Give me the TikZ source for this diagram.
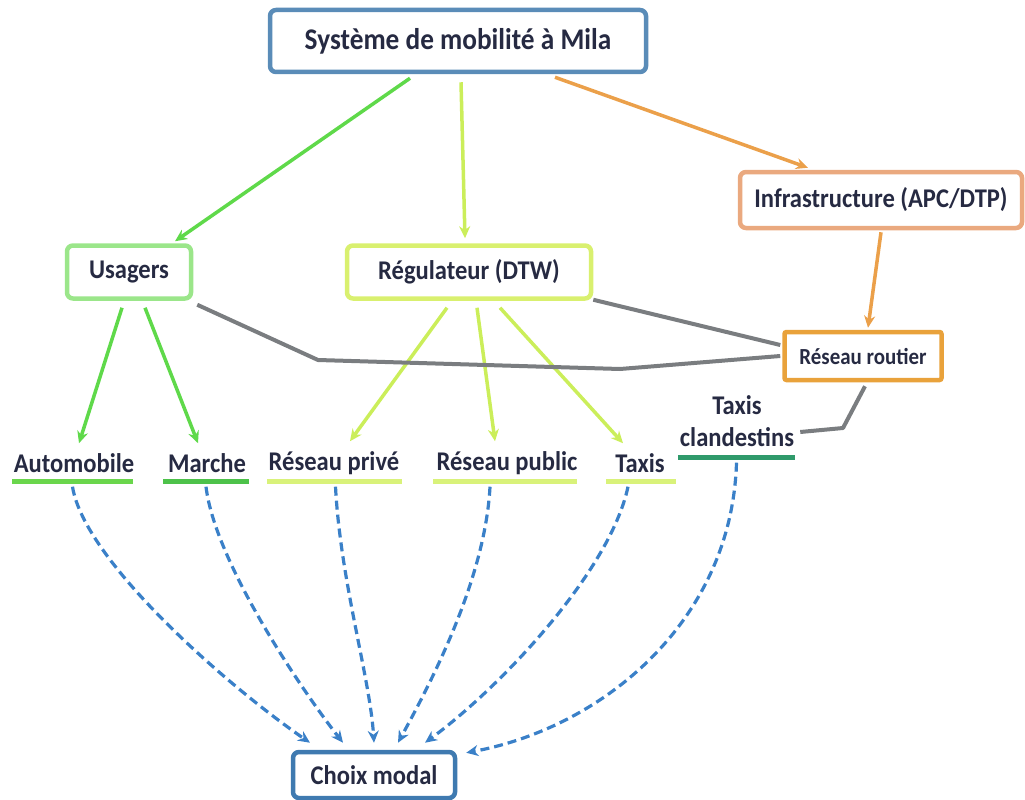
\documentclass[tikz,border=0pt]{standalone}
\usepackage{fontspec}
\setmainfont{Carlito}[FakeStretch=0.91]
\usetikzlibrary{arrows.meta}
\definecolor{txt}{HTML}{262A42}
\definecolor{cSys}{HTML}{5A8CB8}
\definecolor{cInfra}{HTML}{EAA97F}
\definecolor{cUsa}{HTML}{9BE68A}
\definecolor{cReg}{HTML}{D9F06F}
\definecolor{cRout}{HTML}{E9A23B}
\definecolor{cChoix}{HTML}{3F7AB0}
\definecolor{gArr}{HTML}{5FD94A}
\definecolor{yArr}{HTML}{CBEE5A}
\definecolor{oArr}{HTML}{EBA04A}
\definecolor{grey}{HTML}{7A7D80}
\definecolor{uAuto}{HTML}{6AD64C}
\definecolor{uMarche}{HTML}{4DC24A}
\definecolor{uYel}{HTML}{D9F27A}
\definecolor{uTC}{HTML}{2F9A6B}
\definecolor{bDash}{HTML}{3A80C8}
\begin{document}
\begin{tikzpicture}[x=1pt,y=-1pt,
  every node/.style={text=txt,font=\bfseries\fontsize{27}{30}\selectfont},
  box/.style={draw,rounded corners=6pt,line width=4.5pt,fill=white,inner sep=0pt,align=center},
  lbl/.style={inner sep=0pt,align=center},
  uline/.style={inner sep=0pt,minimum height=5pt,fill=#1},
  sarrow/.style={line width=3.5pt,draw=#1,-{Stealth[length=12pt,width=11pt]}},
  greyl/.style={line width=4pt,draw=grey,line join=round},
  dasharrow/.style={line width=3.2pt,draw=bDash,dash pattern=on 9pt off 5pt,-{Stealth[length=12pt,width=11pt]}}
]
\useasboundingbox (0,0) rectangle (1025,800);
% boxes
\node[box,draw=cSys,minimum width=376pt,minimum height=62pt,font=\bfseries\fontsize{30}{34}\selectfont] (sys) at (458,41) {Système de mobilité à Mila};
\node[box,draw=cInfra,minimum width=282pt,minimum height=56pt] (infra) at (881,200) {Infrastructure (APC/DTP)};
\node[box,draw=cUsa,minimum width=124pt,minimum height=53pt] (usa) at (129,272) {Usagers};
\node[box,draw=cReg,minimum width=244pt,minimum height=53pt] (reg) at (469,272) {Régulateur (DTW)};
\node[box,draw=cRout,rounded corners=2pt,minimum width=157pt,minimum height=48pt,font=\bfseries\fontsize{23}{26}\selectfont] (rout) at (863,356) {Réseau routier};
\node[box,draw=cChoix,minimum width=162pt,minimum height=46pt] (choix) at (374,775) {Choix modal};
% labels
\node[lbl] (autoT) at (74,463) {Automobile};
\node[lbl] (marT) at (207,463) {Marche};
\node[lbl] (privT) at (334,463) {Réseau privé};
\node[lbl] (pubT) at (507,463) {Réseau public};
\node[lbl] (taxT) at (640,463) {Taxis};
\node[lbl,font=\bfseries\fontsize{27}{32}\selectfont] (tcT) at (737,421) {Taxis\\clandestins};
% underlines
\node[uline=uAuto,minimum width=121pt] (autoL) at (72.5,481) {};
\node[uline=uMarche,minimum width=86pt] (marL) at (206,481) {};
\node[uline=uYel,minimum width=135pt] (privL) at (334.5,481) {};
\node[uline=uYel,minimum width=144pt] (pubL) at (505,481) {};
\node[uline=uYel,minimum width=70pt] (taxL) at (641,481) {};
\node[uline=uTC,minimum width=117pt] (tcL) at (736.5,457) {};
% top arrows
\draw[sarrow=gArr] ([xshift=-48pt,yshift=-4pt]sys.south) -- ([xshift=46pt,yshift=2pt]usa.north);
\draw[sarrow=yArr] ([xshift=3pt,yshift=-8pt]sys.south) -- ([xshift=-4pt,yshift=5pt]reg.north);
\draw[sarrow=oArr] ([xshift=97pt,yshift=-3pt]sys.south) -- ([xshift=-73pt,yshift=2pt]infra.north);
\draw[sarrow=oArr] ([yshift=-2pt]infra.south) -- ([xshift=5pt,yshift=2pt]rout.north);
% Usagers arrows
\draw[sarrow=gArr] ([xshift=-7pt,yshift=-7pt]usa.south) -- ([xshift=5pt,yshift=10pt]autoT.north);
\draw[sarrow=gArr] ([xshift=16pt,yshift=-7pt]usa.south) -- ([xshift=-9pt,yshift=10pt]marT.north);
% Regulateur arrows
\draw[sarrow=yArr] ([xshift=-22pt,yshift=-7pt]reg.south) -- ([xshift=16pt,yshift=10pt]privT.north);
\draw[sarrow=yArr] ([xshift=8pt,yshift=-7pt]reg.south) -- ([xshift=-12pt,yshift=10pt]pubT.north);
\draw[sarrow=yArr] ([xshift=31pt,yshift=-7pt]reg.south) -- ([xshift=-17pt,yshift=10pt]taxT.north);
% grey lines
\draw[greyl] ([xshift=4pt,yshift=-4pt]usa.south east) -- (318,360) -- (620,369) -- ([xshift=-2pt]rout.west);
\draw[greyl] ([yshift=1pt]reg.south east) -- ([xshift=-2pt,yshift=11pt]rout.west);
\draw[greyl] ([xshift=2pt,yshift=-4pt]rout.south) -- (843,428) -- ([xshift=6pt,yshift=-11pt]tcT.east);
% dashed arrows
\draw[dasharrow] ([yshift=-3pt]autoL.south) .. controls +(12,75) and +(-80,-55) .. ([xshift=-64pt,yshift=7pt]choix.north);
\draw[dasharrow] ([yshift=-3pt]marL.south) .. controls +(9,75) and +(-43,-55) .. ([xshift=-31pt,yshift=7pt]choix.north);
\draw[dasharrow] ([xshift=1pt,yshift=-3pt]privL.south) .. controls +(5,95) and +(-4,-65) .. ([yshift=7pt]choix.north);
\draw[dasharrow] ([xshift=-15pt,yshift=-3pt]pubL.south) .. controls +(-5,95) and +(30,-55) .. ([xshift=24pt,yshift=7pt]choix.north);
\draw[dasharrow] ([xshift=-13pt,yshift=-3pt]taxL.south) .. controls +(-18,85) and +(75,-55) .. ([xshift=51pt,yshift=7pt]choix.north);
\draw[dasharrow] ([yshift=-3pt]tcL.south) .. controls +(-5,160) and +(135,-25) .. ([xshift=9pt,yshift=-3pt]choix.north east);
\end{tikzpicture}
\end{document}
